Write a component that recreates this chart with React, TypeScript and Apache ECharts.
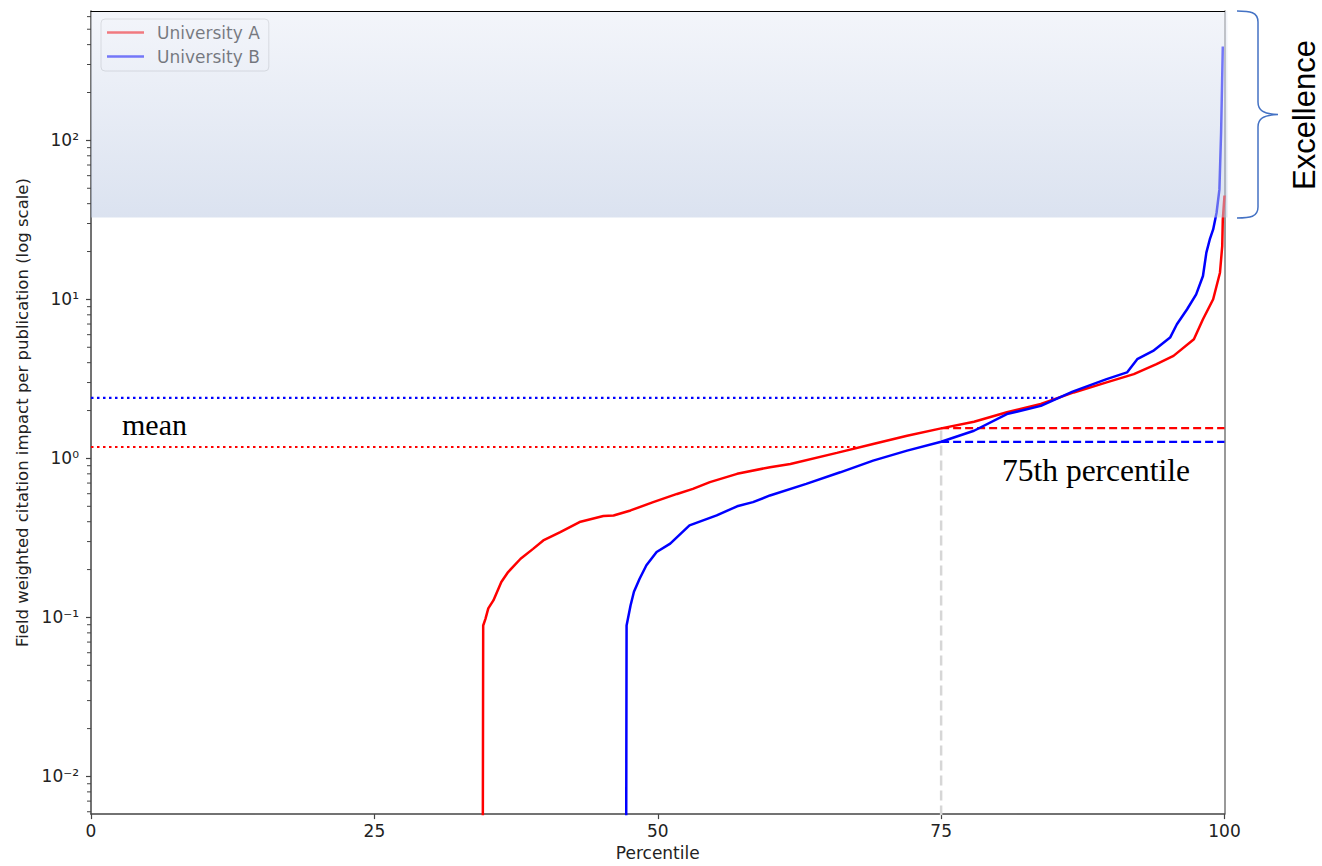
import React, { useEffect, useRef } from "react";
import * as echarts from "echarts";

// ---------- data ----------
// Percentile positions and field weighted citation impact (FWCI) values.
// 0.001 stands for "zero impact" (falls below the log axis and is clipped).
const pctA = [34.55, 34.6, 34.8, 35.05, 35.5, 36.2, 36.8, 37.9, 39.0, 39.9, 41.4, 43.1, 45.2, 46.1, 47.6, 49.6, 51.7, 53.1, 54.6, 57.0, 59.9, 61.7, 65.8, 69.0, 72.0, 75.0, 77.9, 80.8, 83.8, 86.7, 89.6, 92.0, 94.0, 95.5, 97.3, 98.1, 99.0, 99.6, 99.8, 99.85, 100];
const valA = [0.001, 0.089, 0.098, 0.114, 0.128, 0.167, 0.193, 0.234, 0.27, 0.305, 0.344, 0.398, 0.434, 0.438, 0.471, 0.531, 0.598, 0.644, 0.71, 0.8, 0.881, 0.923, 1.084, 1.233, 1.39, 1.545, 1.702, 1.95, 2.198, 2.6, 3.006, 3.388, 3.917, 4.416, 5.623, 7.5, 10.02, 14.72, 21.63, 31.8, 45];

const pctB = [47.2, 47.25, 47.6, 47.9, 48.4, 49.0, 49.9, 51.1, 52.8, 55.2, 57.0, 58.4, 59.9, 63.1, 66.1, 69.0, 72.0, 75.0, 77.9, 80.8, 83.8, 86.6, 89.6, 91.4, 92.3, 93.7, 95.2, 95.8, 96.7, 97.5, 98.1, 98.4, 98.7, 99.0, 99.3, 99.55, 99.7, 99.85];
const valB = [0.001, 0.089, 0.119, 0.145, 0.175, 0.213, 0.258, 0.291, 0.379, 0.438, 0.5, 0.531, 0.585, 0.692, 0.818, 0.968, 1.119, 1.274, 1.493, 1.901, 2.14, 2.63, 3.155, 3.475, 4.207, 4.742, 5.754, 6.982, 8.67, 10.76, 14.03, 19.68, 23.82, 27.54, 35.08, 49.0, 112, 389];

const seriesNames = ["University A", "University B"];
const meanValues = [1.18, 2.4]; // A, B
const meanEndPct = [67.5, 84.9]; // where the dotted mean lines meet the curves
const p75Values = [1.55, 1.27]; // A, B
const p75Pct = 75;
const excellenceThreshold = 32.7;
const belowAxisValue = 0.001;

const yMinValue = 0.0058;
const yMaxValue = 651;
const xTicks = [0, 25, 50, 75, 100];
const yMajorTicks = [0.01, 0.1, 1, 10, 100];
const yMajorLabels = ["10\u207B\u00B2", "10\u207B\u00B9", "10\u2070", "10\u00B9", "10\u00B2"];
const yMinorTicks = [0.006, 0.007, 0.008, 0.009, 0.02, 0.03, 0.04, 0.05, 0.06, 0.07, 0.08, 0.09, 0.2, 0.3, 0.4, 0.5, 0.6, 0.7, 0.8, 0.9, 2, 3, 4, 5, 6, 7, 8, 9, 20, 30, 40, 50, 60, 70, 80, 90, 200, 300, 400, 500, 600];

const xName = "Percentile";
const yName = "Field weighted citation impact per publication (log scale)";

const COLORS = ["#ff0000", "#0000ff"];

const lg = (v: number) => Math.log10(v);

const BRACE =
  "M1237,11 C1250,11 1258,12 1258,22 L1258,102 C1258,110 1263,114 1278,114.5 C1263,115 1258,119 1258,127 L1258,207 C1258,217 1250,218 1237,218";

let braceRegistered = false;

export default function App() {
  const ref = useRef<HTMLDivElement>(null);

  useEffect(() => {
    if (!ref.current) return;
    if (!braceRegistered) {
      echarts.graphic.registerShape("brace", echarts.graphic.extendPath(BRACE, {}));
      braceRegistered = true;
    }
    const chart = echarts.init(ref.current, null, { renderer: "svg" });

    const yMin = lg(yMinValue);
    const yMax = lg(yMaxValue);
    const font = "DejaVu Sans";
    const fs = 17;

    const curve = (i: number, pcts: number[], vals: number[]) => ({
      name: seriesNames[i],
      type: "line",
      data: pcts.map((p, k) => [p, lg(vals[k])]),
      symbol: "none",
      showSymbol: false,
      clip: true,
      z: 3,
      lineStyle: { color: COLORS[i], width: 2.5 },
      itemStyle: { color: COLORS[i] },
    });

    const refLine = (name: string, data: number[][], color: string, dash: number[], width = 2.2) => ({
      name,
      type: "line",
      data,
      symbol: "none",
      showSymbol: false,
      silent: true,
      clip: true,
      z: 2,
      lineStyle: { color, width, type: dash },
      itemStyle: { color },
    });

    const option: any = {
      animation: false,
      backgroundColor: "#ffffff",
      grid: { left: 91, top: 11, width: 1133.5, height: 805, containLabel: false },
      legend: {
        data: seriesNames,
        orient: "vertical",
        left: 101,
        top: 19,
        z: 5,
        icon: "rect",
        itemWidth: 37,
        itemHeight: 2.5,
        itemGap: 7,
        padding: [5, 9, 6, 6],
        backgroundColor: "rgba(255,255,255,0.8)",
        borderColor: "#cccccc",
        borderWidth: 1,
        borderRadius: 4,
        textStyle: { fontFamily: font, fontSize: fs, color: "#000000", padding: [0, 0, 0, 8] },
      },
      xAxis: [
        {
          type: "value",
          min: 0,
          max: 100,
          interval: 25,
          name: xName,
          nameLocation: "middle",
          nameGap: 29,
          nameTextStyle: { fontFamily: font, fontSize: fs, color: "#222" },
          axisLine: { show: true, onZero: false, lineStyle: { color: "#444", width: 1.5 } },
          axisTick: { show: true, length: 5, lineStyle: { color: "#444", width: 1.2 }, customValues: xTicks },
          axisLabel: { fontFamily: font, fontSize: fs, color: "#222", margin: 8, customValues: xTicks },
          splitLine: { show: false },
        },
        {
          type: "value",
          position: "top",
          min: 0,
          max: 100,
          z: 20,
          axisLine: { show: true, onZero: false, lineStyle: { color: "#000", width: 1.2 } },
          axisTick: { show: false },
          axisLabel: { show: false },
          splitLine: { show: false },
        },
      ],
      yAxis: [
        {
          type: "value",
          min: yMin,
          max: yMax,
          name: yName,
          nameLocation: "middle",
          nameGap: 58,
          nameTextStyle: { fontFamily: font, fontSize: 16.5, color: "#222" },
          axisLine: { show: true, onZero: false, lineStyle: { color: "#444", width: 1.5 } },
          axisTick: {
            show: true,
            length: 5,
            lineStyle: { color: "#444", width: 1.2 },
            customValues: yMajorTicks.map(lg),
          },
          axisLabel: {
            fontFamily: font,
            fontSize: fs,
            color: "#222",
            margin: 12,
            customValues: yMajorTicks.map(lg),
            formatter: (v: number) => {
              const i = yMajorTicks.findIndex((t) => Math.abs(lg(t) - v) < 1e-6);
              return i >= 0 ? yMajorLabels[i] : "";
            },
          },
          splitLine: { show: false },
        },
        {
          type: "value",
          min: yMin,
          max: yMax,
          position: "right",
          axisLine: { show: true, onZero: false, lineStyle: { color: "#777", width: 1.5 } },
          axisTick: { show: false },
          axisLabel: { show: false },
          splitLine: { show: false },
        },
      ],
      series: [
        curve(0, pctA, valA),
        curve(1, pctB, valB),
        refLine("mean A", [[0, lg(meanValues[0])], [meanEndPct[0], lg(meanValues[0])]], COLORS[0], [2.5, 3.5]),
        refLine("mean B", [[0, lg(meanValues[1])], [meanEndPct[1], lg(meanValues[1])]], COLORS[1], [2.5, 3.5]),
        refLine("p75 A", [[p75Pct, lg(p75Values[0])], [100, lg(p75Values[0])]], COLORS[0], [8, 4]),
        refLine("p75 B", [[p75Pct, lg(p75Values[1])], [100, lg(p75Values[1])]], COLORS[1], [8, 4]),
        refLine("p75 marker", [[p75Pct, lg(belowAxisValue)], [p75Pct, lg(p75Values[0])]], "#d6d6d6", [10, 5], 2.5),
        {
          name: "minor ticks",
          type: "custom",
          silent: true,
          clip: false,
          z: 1,
          data: yMinorTicks.map((v) => [0, lg(v)]),
          renderItem: (_params: any, api: any) => {
            const p = api.coord([api.value(0), api.value(1)]);
            return {
              type: "line",
              shape: { x1: p[0] - 4, y1: p[1], x2: p[0], y2: p[1] },
              style: { stroke: "#444", lineWidth: 1 },
            };
          },
        },
        {
          name: "excellence",
          type: "custom",
          silent: true,
          z: 10,
          clip: false,
          data: [[0, 100, lg(excellenceThreshold), yMax]],
          renderItem: (_params: any, api: any) => {
            const p0 = api.coord([api.value(0), api.value(3)]);
            const p1 = api.coord([api.value(1), api.value(2)]);
            return {
              type: "rect",
              shape: { x: p0[0], y: p0[1], width: p1[0] - p0[0] + 3, height: p1[1] - p0[1] },
              style: {
                fill: new echarts.graphic.LinearGradient(0, 0, 0, 1, [
                  { offset: 0, color: "rgba(232,236,246,0.52)" },
                  { offset: 1, color: "rgba(186,200,226,0.52)" },
                ]),
              },
            };
          },
        },
      ],
      graphic: [
        {
          type: "text",
          x: 122,
          y: 424,
          style: {
            text: "mean",
            font: '30px "Liberation Serif"',
            fill: "#000",
            textAlign: "left",
            textVerticalAlign: "middle",
          },
        },
        {
          type: "text",
          x: 1002,
          y: 470,
          style: {
            text: "75th percentile",
            font: '31.5px "Liberation Serif"',
            fill: "#000",
            textAlign: "left",
            textVerticalAlign: "middle",
          },
        },
        {
          type: "text",
          x: 1304,
          y: 115,
          rotation: Math.PI / 2,
          style: {
            text: "Excellence",
            font: '31px "Liberation Sans"',
            fill: "#000",
            textAlign: "center",
            textVerticalAlign: "middle",
          },
        },
        {
          type: "brace",
          x: 0,
          y: 0,
          silent: true,
          style: { stroke: "#4472c4", lineWidth: 1.5, fill: "none" },
        },
      ],
    };

    chart.setOption(option);
    return () => chart.dispose();
  }, []);

  return (
    <div
      ref={ref}
      style={{ position: "fixed", left: 0, top: 0, width: 1322, height: 866, background: "#fff" }}
    />
  );
}
